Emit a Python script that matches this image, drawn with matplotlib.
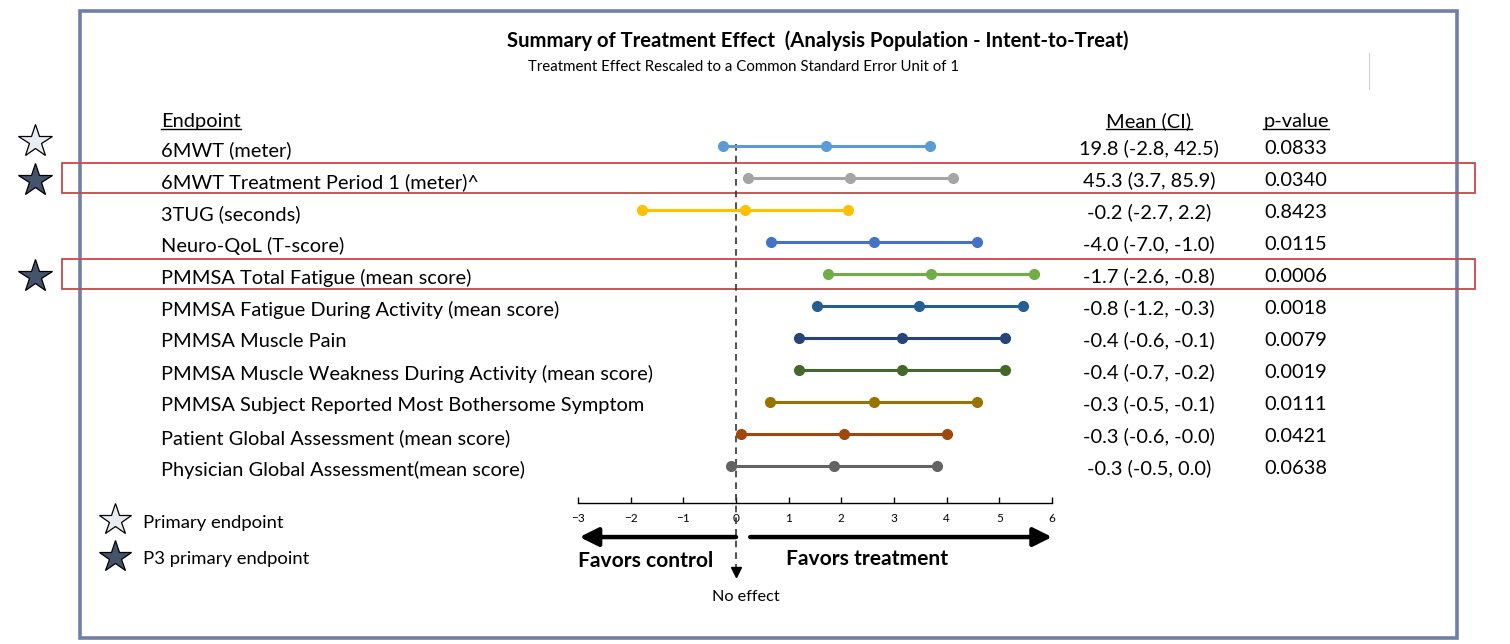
import numpy as np
import matplotlib.pyplot as plt
from matplotlib.patches import Rectangle
from matplotlib.transforms import blended_transform_factory

plt.rcParams['font.family'] = ['Lato', 'DejaVu Sans']

# ---- data ----
endpoints = [
    "6MWT (meter)",
    "6MWT Treatment Period 1 (meter)^",
    "3TUG (seconds)",
    "Neuro-QoL (T-score)",
    "PMMSA Total Fatigue (mean score)",
    "PMMSA Fatigue During Activity (mean score)",
    "PMMSA Muscle Pain",
    "PMMSA Muscle Weakness During Activity (mean score)",
    "PMMSA Subject Reported Most Bothersome Symptom",
    "Patient Global Assessment (mean score)",
    "Physician Global Assessment(mean score)",
]
# rescaled effect (SE unit = 1)
lower = [-0.25, 0.23, -1.78, 0.66, 1.75, 1.53, 1.19, 1.19, 0.64, 0.10, -0.10]
means = [1.71, 2.16, 0.17, 2.62, 3.70, 3.47, 3.15, 3.15, 2.62, 2.05, 1.86]
upper = [3.68, 4.12, 2.13, 4.57, 5.65, 5.45, 5.10, 5.10, 4.57, 4.00, 3.81]
mean_ci = [
    "19.8 (-2.8, 42.5)", "45.3 (3.7, 85.9)", "-0.2 (-2.7, 2.2)",
    "-4.0 (-7.0, -1.0)", "-1.7 (-2.6, -0.8)", "-0.8 (-1.2, -0.3)",
    "-0.4 (-0.6, -0.1)", "-0.4 (-0.7, -0.2)", "-0.3 (-0.5, -0.1)",
    "-0.3 (-0.6, -0.0)", "-0.3 (-0.5, 0.0)",
]
p_values = ["0.0833", "0.0340", "0.8423", "0.0115", "0.0006", "0.0018",
            "0.0079", "0.0019", "0.0111", "0.0421", "0.0638"]
colors = ["#5B9BD5", "#A5A5A5", "#FFC000", "#4472C4", "#70AD47", "#255E91",
          "#264478", "#43682B", "#997300", "#9E480E", "#636363"]
primary_rows = [0]
p3_rows = [1, 4]
xticks = list(range(-3, 7))

# ---- figure: bg axes in pixel units, ax for the forest ----
W, H = 1510, 644
fig = plt.figure(figsize=(W / 100, H / 100), dpi=100)
bg = fig.add_axes([0, 0, 1, 1])
bg.set_xlim(0, W)
bg.set_ylim(H, 0)
bg.axis('off')

ax = fig.add_axes([578 / W, 1 - 503 / H, 474 / W, 403 / H])
ax.set_xlim(-3, 6)
ax.set_ylim(11.156, -1.4375)
for s in ['top', 'right', 'left']:
    ax.spines[s].set_visible(False)
ax.spines['bottom'].set_linewidth(1.0)
ax.set_yticks([])
ax.set_xticks(xticks)
ax.tick_params(axis='x', direction='in', length=4, width=1, labelsize=8.5, pad=7)
ax.patch.set_alpha(0)

trans = blended_transform_factory(bg.transData, ax.transData)
rows = np.arange(len(endpoints))
FS = 14.4

# outer frame
bg.add_patch(Rectangle((80, 11), 1377, 627, fill=False, edgecolor='#6F80A5', lw=2.6))
bg.plot([1369, 1369], [53, 89], color='#D0D0D0', lw=0.8)

# red highlight boxes
for r in p3_rows:
    bg.add_patch(Rectangle((62, r - 0.47), 1413, 0.94, transform=trans, fill=False,
                           edgecolor='#C8474B', lw=1.3, clip_on=False))

# forest lines
for i in rows:
    ax.plot([lower[i], means[i], upper[i]], [i, i, i], color=colors[i], lw=2.2,
            marker='o', ms=7, zorder=3, clip_on=False)

# no effect dashed line with arrow
ax.plot([0, 0], [-0.05, 13.3], color='#333333', lw=1.2, ls=(0, (4, 3)), clip_on=False, zorder=2)
ax.plot([0], [13.3], marker='v', color='black', ms=7, clip_on=False)

# favors arrows
ax.annotate('', xy=(-2.97, 12.22), xytext=(0.0, 12.22), annotation_clip=False,
            arrowprops=dict(arrowstyle='-|>', lw=3.2, color='black', mutation_scale=28,
                            shrinkA=0, shrinkB=0))
ax.annotate('', xy=(6.0, 12.22), xytext=(0.27, 12.22), annotation_clip=False,
            arrowprops=dict(arrowstyle='-|>', lw=3.2, color='black', mutation_scale=28,
                            shrinkA=0, shrinkB=0))
ax.text(-3.0, 12.97, "Favors control", fontsize=15.1, fontweight='bold', va='center', ha='left')
ax.text(0.95, 12.9, "Favors treatment", fontsize=15.1, fontweight='bold', va='center', ha='left')
ax.text(0.18, 14.1, "No effect", fontsize=11.7, va='center', ha='center')

# titles
bg.text(818, 41, "Summary of Treatment Effect  (Analysis Population - Intent-to-Treat)",
        fontsize=14.6, fontweight='bold', ha='center', va='center')
bg.text(744, 67, "Treatment Effect Rescaled to a Common Standard Error Unit of 1",
        fontsize=10.8, ha='center', va='center')

# table text
headers = [
    bg.text(161, -0.6, "Endpoint", transform=trans, fontsize=FS, ha='left', va='baseline'),
    bg.text(1149, -0.6, "Mean (CI)", transform=trans, fontsize=FS, ha='center', va='baseline'),
    bg.text(1296, -0.6, "p-value", transform=trans, fontsize=FS, ha='center', va='baseline'),
]
for i in rows:
    bg.text(161, i + 0.12, endpoints[i], transform=trans, fontsize=FS, ha='left', va='center')
    bg.text(1149, i + 0.08, mean_ci[i], transform=trans, fontsize=FS, ha='center', va='center')
    bg.text(1296, i + 0.08, p_values[i], transform=trans, fontsize=FS, ha='center', va='center')

# stars beside rows
for r in primary_rows:
    bg.plot([35], [r - 0.15], transform=trans, marker='*', ms=25, mfc='#E9ECF2',
            mec='black', mew=0.9, clip_on=False)
for r in p3_rows:
    bg.plot([35], [r + 0.05], transform=trans, marker='*', ms=25, mfc='#44546A',
            mec='black', mew=0.9, clip_on=False)

# legend
bg.plot([115], [520], marker='*', ms=24, mfc='#E9ECF2', mec='black', mew=0.9)
bg.plot([115], [557], marker='*', ms=24, mfc='#44546A', mec='black', mew=0.9)
bg.text(143, 523, "Primary endpoint", fontsize=13.3, va='center')
bg.text(143, 559, "P3 primary endpoint", fontsize=13.3, va='center')

# underline headers
fig.canvas.draw()
renderer = fig.canvas.get_renderer()
inv = bg.transData.inverted()
for t in headers:
    bb = t.get_window_extent(renderer)
    (x0, _), (x1, _) = inv.transform([[bb.x0, bb.y0], [bb.x1, bb.y1]])
    _, yb = trans.transform((0, -0.6))
    yb = inv.transform([[0, yb]])[0][1] + 2
    bg.plot([x0, x1], [yb, yb], color='black', lw=1.0)

fig.savefig("out.png", dpi=100)
